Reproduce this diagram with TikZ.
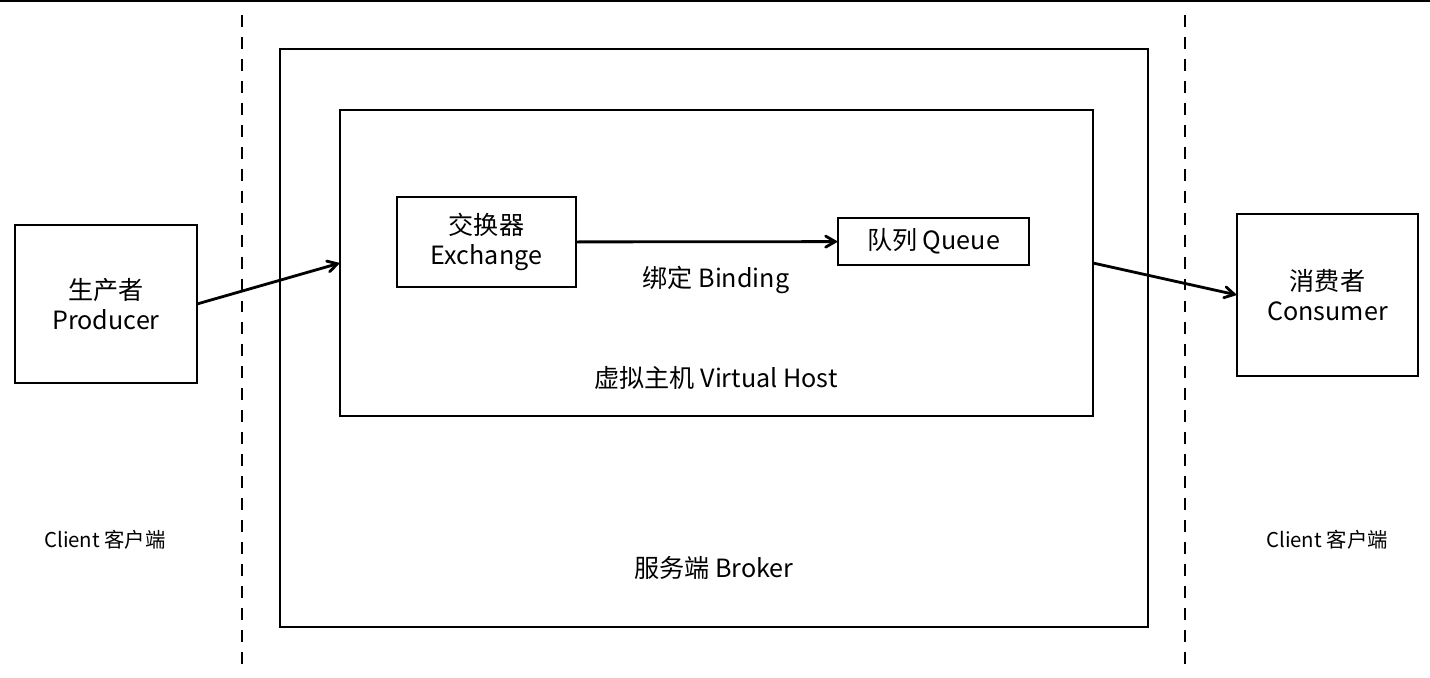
\documentclass[tikz,border=0pt]{standalone}
\usepackage{fontspec}
\setmainfont{Noto Sans CJK SC}
\usepackage{tikz}
\usetikzlibrary{arrows,calc,positioning}

\begin{document}
\begin{tikzpicture}[x=0.02cm,y=-0.02cm,>=angle 60,
	box/.style={draw,line width=1.6pt,inner sep=0pt,outer sep=0pt,align=center,
		font=\fontsize{14.3}{17.5}\selectfont},
	label/.style={font=\fontsize{14.3}{17.5}\selectfont},
	client/.style={font=\fontsize{11.6}{13}\selectfont},
	divider/.style={line width=1.4pt,dash pattern=on 6.8pt off 5.7pt}]
	\useasboundingbox (0,0) rectangle (1430,677);
	\draw[line width=1.2pt] (0,1) -- (1430,1);
	% client / broker borders
	\coordinate (d_1a) at (242,15);
	\coordinate (d_1b) at (242,665);
	\coordinate (d_2a) at (1185,15);
	\coordinate (d_2b) at (1185,665);
	\draw[divider] (d_1a) -- (d_1b);
	\draw[divider] (d_2a) -- (d_2b);
	% broker and virtual host
	\node[box,minimum width=17.36cm,minimum height=11.56cm] (broker) at (714,338) {};
	\node[box,minimum width=15.06cm,minimum height=6.12cm] (vhost) at (716.5,263) {};
	\node[label] (broker_l) at (714,568) {服务端 Broker};
	\node[label] (vhost_l) at (716,378) {虚拟主机 Virtual Host};
	% exchange and queue
	\node[box,minimum width=3.58cm,minimum height=1.8cm] (exch) at (486.5,242) {交换器\\Exchange};
	\node[box,minimum width=3.82cm,minimum height=0.94cm] (queue) at (933.5,241.5) {队列 Queue};
	\node[label] (bind_l) at (716,280) {绑定 Binding};
	% clients
	\node[box,minimum width=3.64cm,minimum height=3.16cm] (prod) at (106,304) {生产者\\Producer};
	\node[box,minimum width=3.62cm,minimum height=3.24cm] (cons) at (1327.5,295) {消费者\\Consumer};
	\node[client] (client_1) at (105,540) {Client 客户端};
	\node[client] (client_2) at (1327,540) {Client 客户端};
	\path[->,line width=1.6pt]
		(prod.east) edge (vhost.west)
		(exch) edge (queue)
		(vhost.east) edge (cons.west);
\end{tikzpicture}
\end{document}
